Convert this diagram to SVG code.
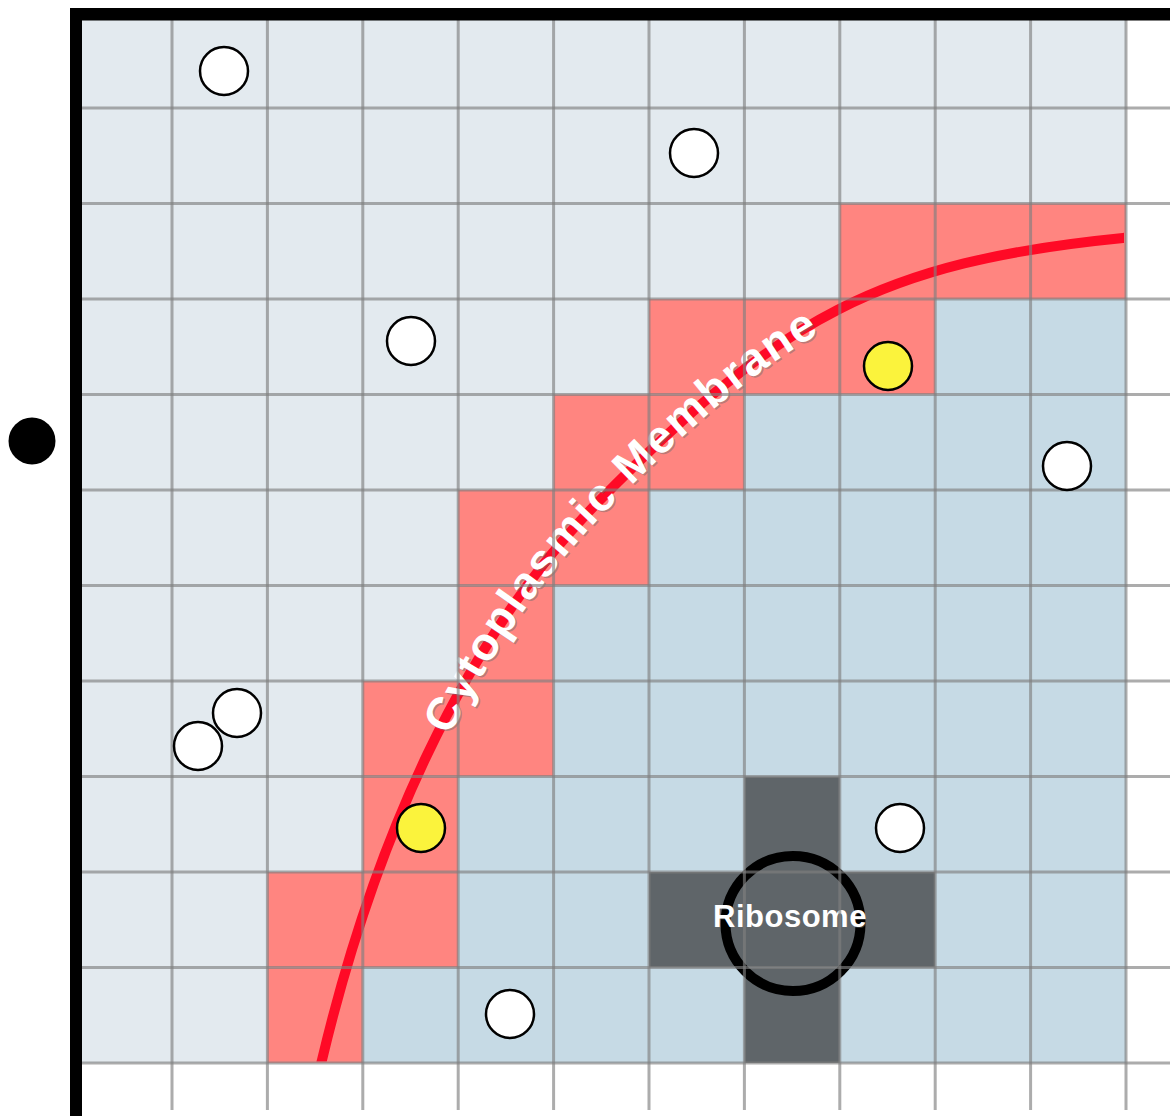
<svg xmlns="http://www.w3.org/2000/svg" width="1170" height="1116" viewBox="0 0 1170 1116">
<style>
.lt{fill:#e3eaef}
.rd{fill:#ff8580}
.bl{fill:#c6dae5}
.dk{fill:#5f6569}
.gl{stroke:#7f7f7f;stroke-opacity:.65;stroke-width:3;fill:none}
.mol{stroke:#000;stroke-width:2.5}
.w{fill:#fff}
.y{fill:#fbf33c}
.lbl{font-family:"Liberation Sans",Arial,sans-serif;font-weight:bold;fill:#fff}
.sh{fill:#6a6a6a;fill-opacity:.45}
</style>
<defs>
<clipPath id="gridclip"><rect x="76" y="12" width="1048" height="1049.5"/></clipPath>
<path id="mem" d="M 320 1068 L 322 1060 C 372 850 460 642 600 500 C 780 318 880 262 1123 238 L 1132 237"/>
</defs>
<g id="cells">
<rect class="lt" x="76.6" y="12.5" width="1049.4" height="1050.5"/>
<rect class="rd" x="839.8" y="203.5" width="286.2" height="95.5"/>
<rect class="rd" x="649" y="299" width="286.2" height="95.5"/>
<rect class="rd" x="553.6" y="394.5" width="190.8" height="95.5"/>
<rect class="rd" x="458.2" y="490" width="190.8" height="95.5"/>
<rect class="rd" x="458.2" y="585.5" width="95.4" height="95.5"/>
<rect class="rd" x="362.8" y="681" width="190.8" height="95.5"/>
<rect class="rd" x="362.8" y="776.5" width="95.4" height="95.5"/>
<rect class="rd" x="267.4" y="872" width="190.8" height="95.5"/>
<rect class="rd" x="267.4" y="967.5" width="95.4" height="95.5"/>
<rect class="bl" x="935.2" y="299" width="190.8" height="95.5"/>
<rect class="bl" x="744.4" y="394.5" width="381.6" height="95.5"/>
<rect class="bl" x="649" y="490" width="477" height="95.5"/>
<rect class="bl" x="553.6" y="585.5" width="572.4" height="95.5"/>
<rect class="bl" x="553.6" y="681" width="572.4" height="95.5"/>
<rect class="bl" x="458.2" y="776.5" width="667.8" height="95.5"/>
<rect class="bl" x="458.2" y="872" width="667.8" height="95.5"/>
<rect class="bl" x="362.8" y="967.5" width="763.2" height="95.5"/>
</g>
<g id="membrane">
<use href="#mem" clip-path="url(#gridclip)" fill="none" stroke="#ff0a26" stroke-width="10"/>
<text class="lbl sh" font-size="46" letter-spacing="2.3" text-anchor="middle" transform="translate(1.5,1.5)"><textPath href="#mem" startOffset="640"><tspan dy="12">Cytoplasmic Membrane</tspan></textPath></text>
<text class="lbl" font-size="46" letter-spacing="2.3" text-anchor="middle"><textPath href="#mem" startOffset="640"><tspan dy="12">Cytoplasmic Membrane</tspan></textPath></text>
</g>
<g id="ribosome">
<rect class="dk" x="744.4" y="776.5" width="95.4" height="95.5"/>
<rect class="dk" x="649" y="872" width="286.2" height="95.5"/>
<rect class="dk" x="744.4" y="967.5" width="95.4" height="95.5"/>
<circle cx="793" cy="923.5" r="67.5" fill="none" stroke="#000" stroke-width="10"/>
<text class="lbl sh" x="791" y="928" font-size="31" letter-spacing=".5" text-anchor="middle">Ribosome</text>
<text class="lbl" x="790" y="927" font-size="31" letter-spacing=".5" text-anchor="middle">Ribosome</text>
</g>
<g id="gridlines">
<path class="gl" d="M76 108H1170M76 203.5H1170M76 299H1170M76 394.5H1170M76 490H1170M76 585.5H1170M76 681H1170M76 776.5H1170M76 872H1170M76 967.5H1170M76 1063H1170"/>
<path class="gl" d="M172 12V1110M267.4 12V1110M362.8 12V1110M458.2 12V1110M553.6 12V1110M649 12V1110M744.4 12V1110M839.8 12V1110M935.2 12V1110M1030.6 12V1110M1126 12V1110"/>
</g>
<g id="connectors"/>
<g id="mol-1"><circle class="mol w" cx="224" cy="71" r="24"/></g>
<g id="mol-2"><circle class="mol w" cx="694" cy="153" r="24"/></g>
<g id="mol-3"><circle class="mol w" cx="411" cy="341" r="24"/></g>
<g id="mol-4"><circle class="mol y" cx="888" cy="366" r="24"/></g>
<g id="mol-5"><circle class="mol w" cx="1067" cy="466" r="24"/></g>
<g id="mol-6"><circle class="mol w" cx="237" cy="713" r="24"/></g>
<g id="mol-7"><circle class="mol w" cx="198" cy="746" r="24"/></g>
<g id="mol-8"><circle class="mol y" cx="421" cy="828" r="24"/></g>
<g id="mol-9"><circle class="mol w" cx="900" cy="828" r="24"/></g>
<g id="mol-10"><circle class="mol w" cx="510" cy="1014" r="24"/></g>
<g id="outside-dot"><circle cx="32" cy="441" r="23.5" fill="#000"/></g>
<g id="border">
<rect x="70" y="8" width="12" height="1108" fill="#000"/>
<rect x="70" y="8" width="1100" height="12.5" fill="#000"/>
</g>
</svg>
